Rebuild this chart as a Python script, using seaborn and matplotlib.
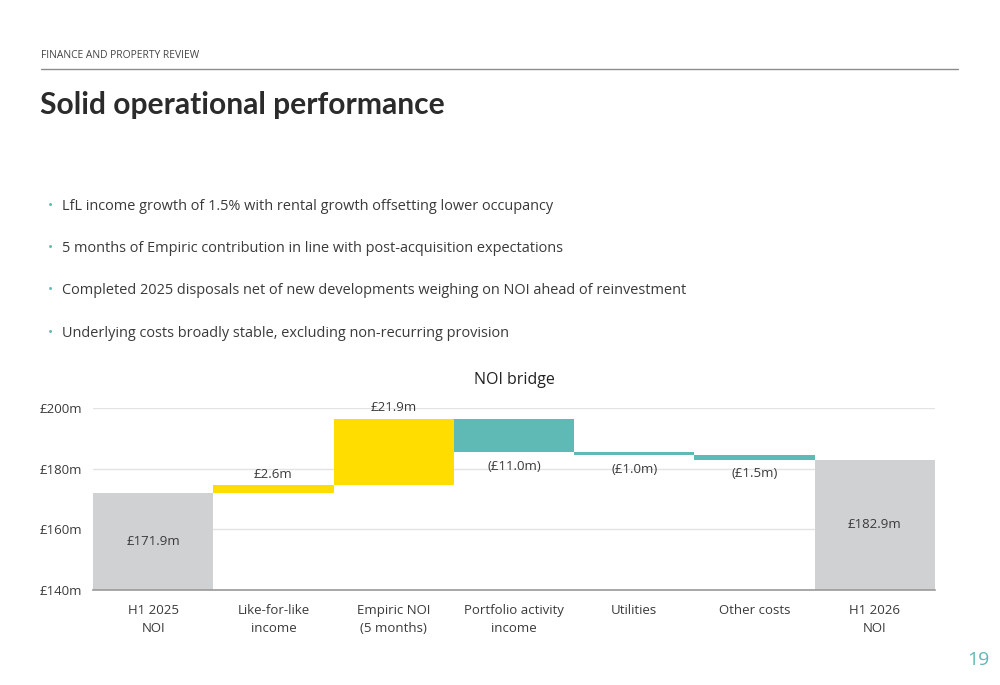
import numpy as np
import pandas as pd
import seaborn as sns
import matplotlib.pyplot as plt

sns.set_theme(style="white")
plt.rcParams['font.family'] = ['Open Sans', 'DejaVu Sans']

# data
categories = ["H1 2025\nNOI", "Like-for-like\nincome", "Empiric NOI\n(5 months)",
              "Portfolio activity\nincome", "Utilities", "Other costs", "H1 2026\nNOI"]
start_total = 171.9
changes = [2.6, 21.9, -11.0, -1.0, -1.5]
end_total = 182.9
bar_labels = ["£171.9m", "£2.6m", "£21.9m", "(£11.0m)", "(£1.0m)", "(£1.5m)", "£182.9m"]
yticks = [140, 160, 180, 200]
ytick_labels = ["£140m", "£160m", "£180m", "£200m"]
bullets = [
    "LfL income growth of 1.5% with rental growth offsetting lower occupancy",
    "5 months of Empiric contribution in line with post-acquisition expectations",
    "Completed 2025 disposals net of new developments weighing on NOI ahead of reinvestment",
    "Underlying costs broadly stable, excluding non-recurring provision",
]

grey = "#D0D1D3"
yellow = "#FFDD00"
teal = "#5FB9B5"
text_col = "#3a3a3a"

# waterfall geometry
running = start_total + np.concatenate([[0], np.cumsum(changes)])
heights = [start_total] + [abs(c) for c in changes] + [end_total]
bottoms = [0] + [min(running[i], running[i + 1]) for i in range(len(changes))] + [0]
colors = [grey] + [yellow if c > 0 else teal for c in changes] + [grey]

df = pd.DataFrame({"category": categories, "height": heights})

fig = plt.figure(figsize=(10, 6.85), dpi=100)
ax = fig.add_axes([0.093, 1 - 590 / 685, 0.842, 182 / 685])

sns.barplot(data=df, x="category", y="height", bottom=np.array(bottoms),
            width=1.0, color=grey, linewidth=0, ax=ax, zorder=3)
for patch, c in zip(ax.patches, colors):
    patch.set_facecolor(c)
    patch.set_edgecolor(c)

ax.set_ylim(140, 200)
ax.set_xlim(-0.5, len(categories) - 0.5)
ax.set_yticks(yticks)
ax.set_yticklabels(ytick_labels)
ax.yaxis.grid(True, color="#e3e3e3", linewidth=1, zorder=0)
ax.set_axisbelow(True)
for s in ["top", "right", "left"]:
    ax.spines[s].set_visible(False)
ax.spines["bottom"].set_color("#9a9a9a")
ax.spines["bottom"].set_linewidth(1.2)
ax.spines["bottom"].set_zorder(4)
ax.tick_params(axis="both", length=0, labelsize=9.5, colors=text_col)
ax.tick_params(axis="x", pad=10)
ax.tick_params(axis="y", pad=7.5)
for t in ax.get_xticklabels():
    t.set_linespacing(1.55)
ax.set_xlabel("")
ax.set_ylabel("")

# bar labels
for i, lab in enumerate(bar_labels):
    bot, h = bottoms[i], heights[i]
    if i == 0 or i == len(categories) - 1:
        ax.text(i, (140 + h) / 2, lab, ha="center", va="center", fontsize=9.5, color=text_col, zorder=5)
    elif changes[i - 1] > 0:
        ax.annotate(lab, (i, bot + h), xytext=(0, 8), textcoords="offset points",
                    ha="center", va="center", fontsize=9.5, color=text_col, zorder=5)
    else:
        ax.annotate(lab, (i, bot), xytext=(0, -10), textcoords="offset points",
                    ha="center", va="center", fontsize=9.5, color=text_col, zorder=5)

ax.set_title("NOI bridge", fontsize=11.5, color="#222222", pad=17)

# page furniture
fig.text(0.041, 1 - 55 / 685, "FINANCE AND PROPERTY REVIEW", fontsize=7.4, color="#444444", va="center")
fig.add_artist(plt.Line2D([0.041, 0.958], [1 - 69 / 685, 1 - 69 / 685], color="#8c8c8c", linewidth=1))
fig.text(0.040, 1 - 105 / 685, "Solid operational performance", fontsize=21.6, fontweight="bold",
         family=["Lato", "DejaVu Sans"], color="#2b2b2b", va="center")
for k, b in enumerate(bullets):
    y = 1 - (206 + k * 42.4) / 685
    fig.text(0.050, y, "•", fontsize=10, color=teal, va="center", ha="center")
    fig.text(0.062, y, b, fontsize=10.45, color=text_col, va="center")
fig.text(0.978, 1 - 660 / 685, "19", fontsize=14, color=teal, va="center", ha="center")

fig.savefig("out.png", dpi=100, facecolor="white")
